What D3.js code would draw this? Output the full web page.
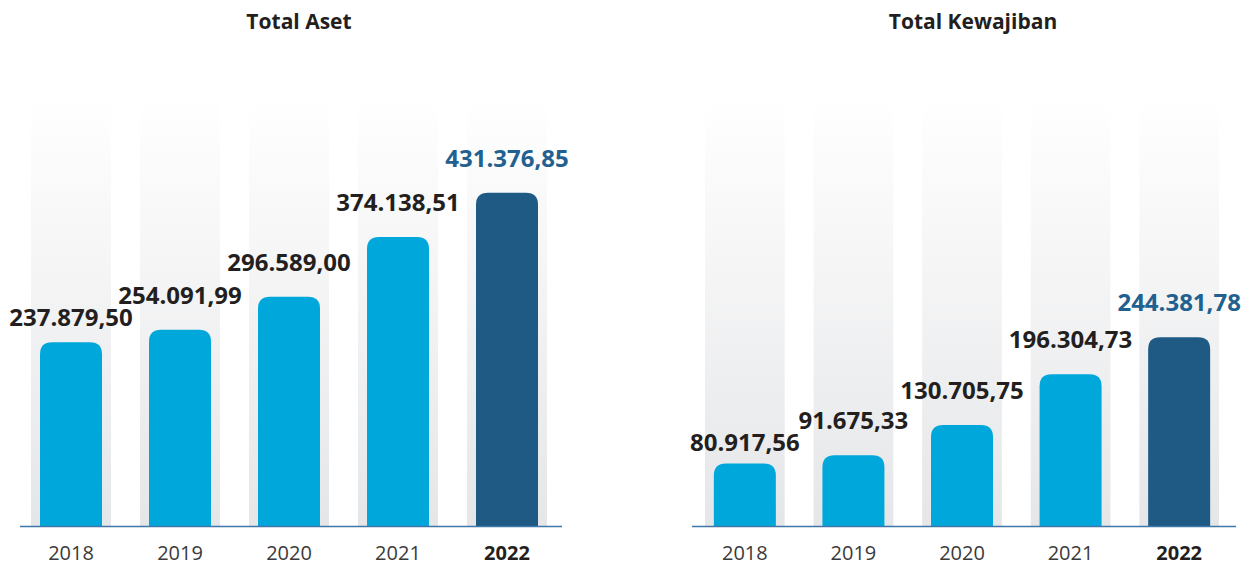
<!DOCTYPE html>
<html>
<head>
<meta charset="utf-8">
<script src="https://cdn.jsdelivr.net/npm/d3@7"></script>
<style>
  body { margin: 0; background: #fff; }
  svg { display: block; font-family: "Open Sans", "Noto Sans", sans-serif; }
</style>
</head>
<body>
<svg id="chart" width="1242" height="567"></svg>
<script>
const years = ["2018", "2019", "2020", "2021", "2022"];
const totalAset = [237879.50, 254091.99, 296589.00, 374138.51, 431376.85];
const totalKewajiban = [80917.56, 91675.33, 130705.75, 196304.73, 244381.78];
const titles = ["Total Aset", "Total Kewajiban"];

const width = 1242;
const height = 567;
const baseY = 526;

// format angka gaya Indonesia: 237.879,50
const idLocale = d3.formatLocale({ decimal: ",", thousands: ".", grouping: [3], currency: ["Rp", ""] });
const fmt = idLocale.format(",.2f");

const svg = d3.select("#chart");

const defs = svg.append("defs");
const grad = defs.append("linearGradient")
  .attr("id", "bgGrad")
  .attr("x1", 0).attr("y1", 0).attr("x2", 0).attr("y2", 1);
grad.append("stop").attr("offset", "0%").attr("stop-color", "#ffffff");
grad.append("stop").attr("offset", "100%").attr("stop-color", "#e5e6e8");

// skala tinggi yang sama untuk kedua grafik
const y = d3.scaleLinear().domain([0, 440000]).range([baseY, baseY - 340]);

const panels = [
  { title: titles[0], values: totalAset, range: [31, 547], line: [20, 562], titleX: 299 },
  { title: titles[1], values: totalKewajiban, range: [705, 1219], line: [692, 1236], titleX: 973 }
];

function topRounded(x, yTop, w, h, r) {
  r = Math.min(r, h, w / 2);
  return "M" + x + "," + (yTop + h) +
    "V" + (yTop + r) +
    "Q" + x + "," + yTop + " " + (x + r) + "," + yTop +
    "H" + (x + w - r) +
    "Q" + (x + w) + "," + yTop + " " + (x + w) + "," + (yTop + r) +
    "V" + (yTop + h) + "Z";
}

panels.forEach(function (p) {
  const g = svg.append("g");
  const x = d3.scaleBand().domain(years).range(p.range).paddingInner(0.266).paddingOuter(0);
  const barW = 62;
  const data = years.map(function (yr, i) { return { year: yr, value: p.values[i], last: i === years.length - 1 }; });

  // posisi label nilai: di atas batang, digeser turun kalau bertabrakan dgn label kanannya
  data.forEach(function (d) { d.ly = y(d.value) - 26; });
  for (let i = data.length - 2; i >= 0; i--) {
    if (data[i + 1].ly - data[i].ly > -22) {
      data[i].ly = Math.min(data[i + 1].ly + 22, y(data[i].value) - 8);
    }
  }

  g.append("text")
    .attr("x", p.titleX).attr("y", 29)
    .attr("text-anchor", "middle")
    .attr("font-size", 21).attr("font-weight", 700)
    .attr("fill", "#231f20")
    .text(p.title);

  // kolom latar gradasi
  g.selectAll("rect.bg").data(data).enter().append("rect")
    .attr("class", "bg")
    .attr("x", function (d) { return x(d.year); })
    .attr("y", 97)
    .attr("width", x.bandwidth())
    .attr("height", baseY - 97)
    .attr("fill", "url(#bgGrad)");

  g.selectAll("path.bar").data(data).enter().append("path")
    .attr("class", "bar")
    .attr("d", function (d) {
      const bx = x(d.year) + (x.bandwidth() - barW) / 2;
      return topRounded(bx, y(d.value), barW, baseY - y(d.value), 12);
    })
    .attr("fill", function (d) { return d.last ? "#1f5a85" : "#00a7db"; });

  g.append("line")
    .attr("x1", p.line[0]).attr("x2", p.line[1])
    .attr("y1", baseY + 0.5).attr("y2", baseY + 0.5)
    .attr("stroke", "#3f78a8").attr("stroke-width", 1.5);

  g.selectAll("text.val").data(data).enter().append("text")
    .attr("class", "val")
    .attr("x", function (d) { return x(d.year) + x.bandwidth() / 2; })
    .attr("y", function (d) { return d.ly; })
    .attr("text-anchor", "middle")
    .attr("font-size", 24).attr("font-weight", 700)
    .attr("fill", function (d) { return d.last ? "#22608f" : "#231f20"; })
    .text(function (d) { return fmt(d.value); });

  g.selectAll("text.yr").data(data).enter().append("text")
    .attr("class", "yr")
    .attr("x", function (d) { return x(d.year) + x.bandwidth() / 2; })
    .attr("y", 560)
    .attr("text-anchor", "middle")
    .attr("font-size", 20)
    .attr("font-weight", function (d) { return d.last ? 700 : 400; })
    .attr("fill", function (d) { return d.last ? "#231f20" : "#3a3a3a"; })
    .text(function (d) { return d.year; });
});
</script>
</body>
</html>
